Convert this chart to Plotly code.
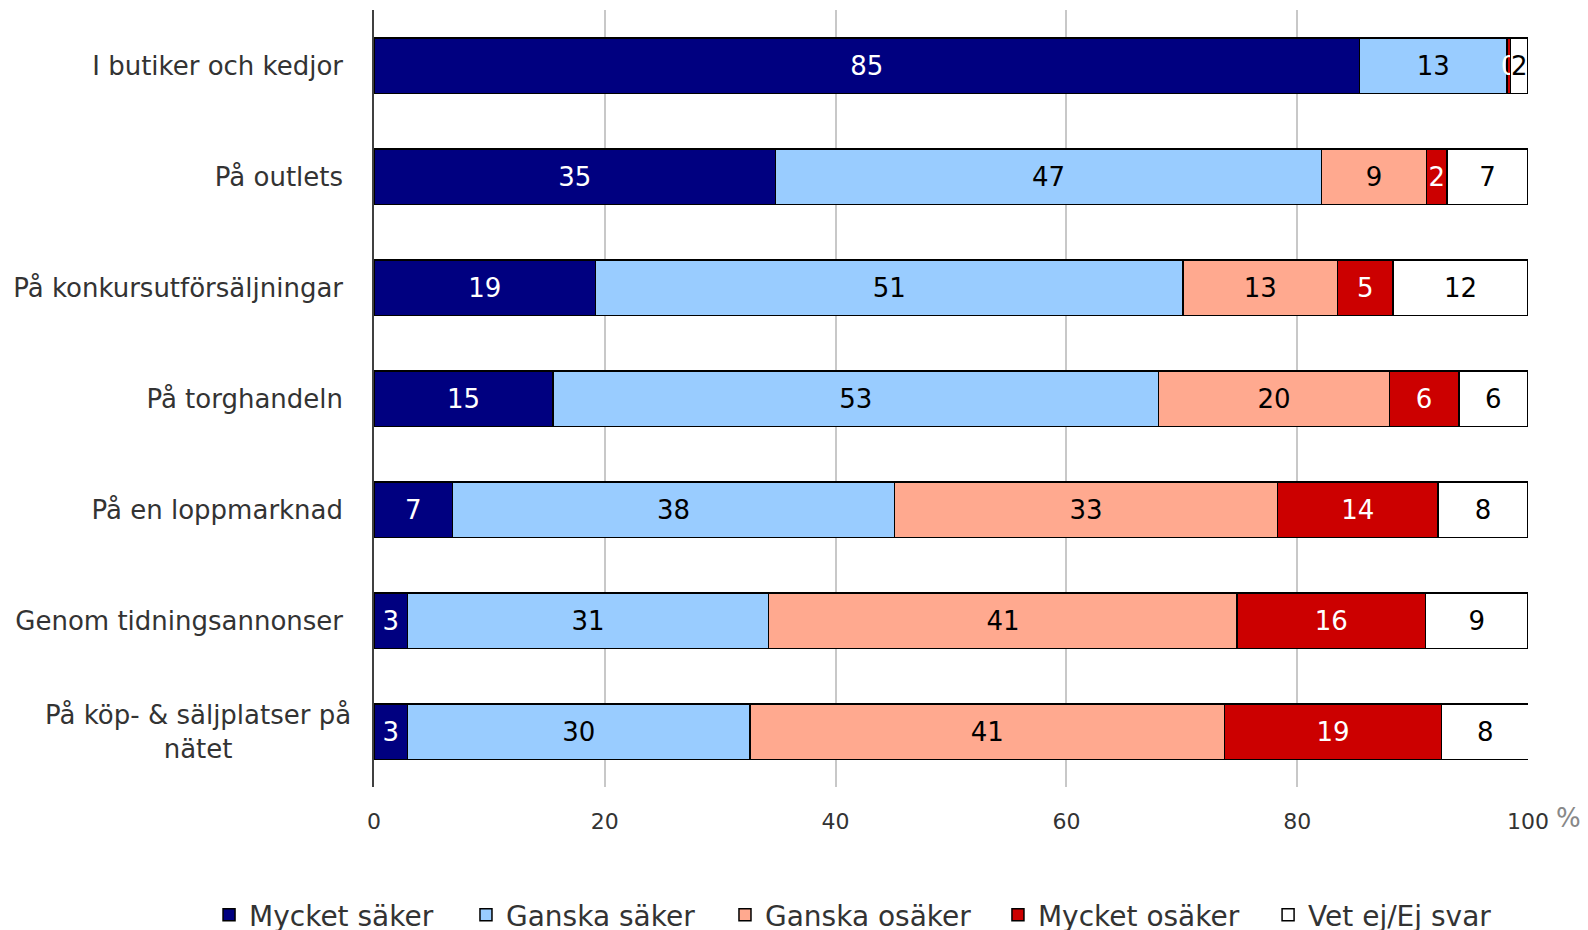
import plotly.graph_objects as go

categories = ['I butiker och kedjor', 'På outlets', 'På konkursutförsäljningar',
              'På torghandeln', 'På en loppmarknad', 'Genom tidningsannonser',
              'På köp- & säljplatser på nätet']

mycket_saker = [85.4, 34.8, 19.2, 15.5, 6.8, 2.9, 2.9]
ganska_saker = [12.8, 47.3, 50.9, 52.5, 38.3, 31.3, 29.7]
ganska_osaker = [0.0, 9.1, 13.4, 20.0, 33.2, 40.6, 41.1]
mycket_osaker = [0.3, 1.8, 4.8, 6.0, 13.9, 16.3, 18.8]
vet_ej = [1.5, 7.0, 11.7, 6.0, 7.8, 8.9, 7.6]

# label texts as printed in the chart (row 1 has no "Ganska osäker" label)
labels = {
    'Mycket säker': ['85', '35', '19', '15', '7', '3', '3'],
    'Ganska säker': ['13', '47', '51', '53', '38', '31', '30'],
    'Ganska osäker': ['', '9', '13', '20', '33', '41', '41'],
    'Mycket osäker': ['0', '2', '5', '6', '14', '16', '19'],
    'Vet ej/Ej svar': ['2', '7', '12', '6', '8', '9', '8'],
}

series = [
    ('Mycket säker', mycket_saker, '#000080', 'white'),
    ('Ganska säker', ganska_saker, '#99ccff', 'black'),
    ('Ganska osäker', ganska_osaker, '#ffa98f', 'black'),
    ('Mycket osäker', mycket_osaker, '#cc0000', 'white'),
    ('Vet ej/Ej svar', vet_ej, '#ffffff', 'black'),
]

font = 'DejaVu Sans, Verdana, sans-serif'

# one legend per series so each entry sits where the original has it
legend_x = [0.1266, 0.2884, 0.4515, 0.6234, 0.7935]

fig = go.Figure()
for i, (name, vals, color, tcolor) in enumerate(series):
    leg = 'legend' if i == 0 else 'legend%d' % (i + 1)
    fig.add_trace(go.Bar(
        y=categories, x=vals, name=name, orientation='h',
        marker=dict(color=color, line=dict(color='black', width=1.5)),
        text=labels[name], textposition='inside', insidetextanchor='middle',
        constraintext='none', textangle=0,
        textfont=dict(family=font, size=26, color=tcolor),
        width=0.5, legend=leg,
    ))
    fig.update_layout({leg: dict(
        orientation='h', x=legend_x[i], xref='container', xanchor='left',
        y=0.0247, yref='container', yanchor='middle',
        font=dict(family=font, size=28, color='#333333'))})

# last label is two centred lines, drawn as an annotation instead
ticktext = categories[:-1] + ['']

# note: page body has an 8px margin, so everything is offset by that
fig.update_layout(
    barmode='stack',
    width=1588, height=930,
    margin=dict(l=366, r=68, t=2, b=151, autoexpand=False),
    plot_bgcolor='white', paper_bgcolor='white',
    font=dict(family=font, color='#333333'),
    xaxis=dict(range=[0, 100], tickvals=[0, 20, 40, 60, 80, 100],
               showgrid=True, gridcolor='#c8c8c8', gridwidth=1.5,
               ticks='', ticklabelstandoff=19,
               tickfont=dict(size=22, color='#333333'), zeroline=False,
               showline=False),
    yaxis=dict(autorange='reversed', tickfont=dict(size=26, color='#333333'),
               tickmode='array', tickvals=categories, ticktext=ticktext,
               ticks='', ticklabelstandoff=24, showline=True,
               linecolor='#404040', linewidth=1.5),
    showlegend=True,
)

fig.add_annotation(x=-0.0179, y=categories[-1], xref='paper', yref='y',
                   xanchor='right', align='center', showarrow=False,
                   text='På köp- & säljplatser på<br>nätet',
                   font=dict(size=26, color='#333333'))

fig.add_annotation(x=1.0347, y=-0.040, xref='paper', yref='paper', text='%',
                   xanchor='center', yanchor='middle',
                   showarrow=False, font=dict(size=26, color='#888888'))

fig.write_html('out.html')
